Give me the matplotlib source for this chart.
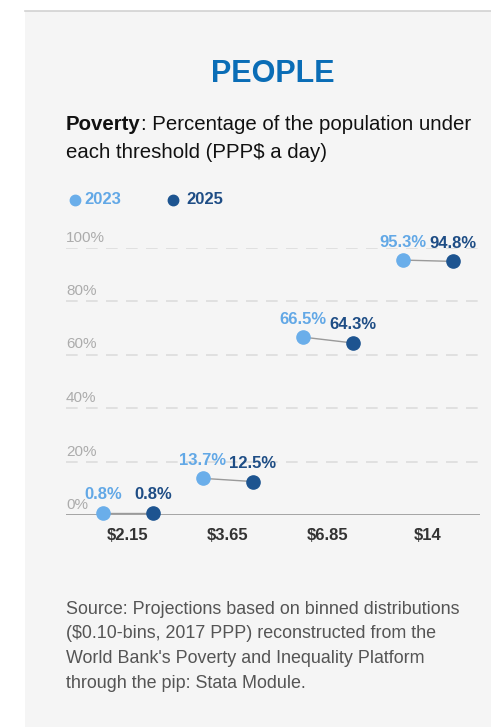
import matplotlib
matplotlib.use("Agg")
import matplotlib.pyplot as plt
from matplotlib.transforms import blended_transform_factory, offset_copy

# Data
thresholds = ["$2.15", "$3.65", "$6.85", "$14"]
series_years = ["2023", "2025"]
poverty_2023 = [0.8, 13.7, 66.5, 95.3]
poverty_2025 = [0.8, 12.5, 64.3, 94.8]
y_ticks = [0, 20, 40, 60, 80, 100]

FONT = "Liberation Sans"
plt.rcParams["font.family"] = [FONT, "DejaVu Sans"]

W, H, DPI = 491, 727, 100
LIGHT = "#6aaeea"
DARK = "#1d5490"
LIGHT_TXT = "#62a8e6"
DARK_TXT = "#1e4d85"

fig = plt.figure(figsize=(W / DPI, H / DPI), dpi=DPI)
fig.patch.set_facecolor("white")

def fx(px):
    return px / W

def fy(py):
    return 1 - py / H

# Card background and top rule
card = plt.Rectangle((fx(25), 0), 1 - fx(25), fy(11), transform=fig.transFigure,
                     facecolor="#f5f5f5", edgecolor="none", zorder=-5)
fig.add_artist(card)
fig.add_artist(plt.Line2D([fx(25), 1], [fy(11), fy(11)], transform=fig.transFigure,
                          color="#d2d2d2", lw=1.2, zorder=-4))

# Title
fig.text(fx(272.5), fy(82), "PEOPLE", ha="center", va="baseline", fontsize=22,
         fontweight="bold", color="#0a6db6")

# Subtitle with bold lead word
renderer = fig.canvas.get_renderer()
SUB = 14.7
t_bold = fig.text(fx(66), fy(130), "Poverty", ha="left", va="baseline", fontsize=SUB,
                  fontweight="bold", color="#111111")
bb = t_bold.get_window_extent(renderer=renderer)
fig.text(bb.x1 / W, fy(130), ": Percentage of the population under", ha="left",
         va="baseline", fontsize=SUB, color="#111111")
fig.text(fx(66), fy(158), "each threshold (PPP$ a day)", ha="left", va="baseline",
         fontsize=SUB, color="#111111")

# Legend
legend_items = [(75, 84, series_years[0], LIGHT, LIGHT_TXT),
                (173, 186, series_years[1], DARK, DARK_TXT)]
for dot_x, txt_x, label, c, tc in legend_items:
    fig.add_artist(plt.Line2D([fx(dot_x)], [fy(200)], transform=fig.transFigure,
                              marker="o", markersize=7.5, color=c, lw=0))
    fig.text(fx(txt_x), fy(200), label, ha="left", va="center", fontsize=12,
             fontweight="bold", color=tc)

# Plot area
ax = fig.add_axes([fx(66), fy(515), fx(480) - fx(66), (515 - 247.5) / H])
ax.set_facecolor("none")
ax.set_xlim(-0.62, 3.52)
ax.set_ylim(0, 100)
for s in ax.spines.values():
    s.set_visible(False)
ax.set_xticks([])
ax.set_yticks([])

for v in y_ticks[1:]:
    ax.axhline(v, color="#dcdcdc", lw=1.2, dashes=(7, 5), zorder=1)
ax.axhline(0, color="#8c8c8c", lw=1.8, zorder=2)

trans_y = blended_transform_factory(ax.transAxes, ax.transData)
for v in y_ticks:
    ax.text(0, v, f"{v}%", transform=offset_copy(trans_y, fig=fig, y=10, units="dots"),
            ha="left", va="center", fontsize=11, color="#acacac", zorder=2)

trans_x = blended_transform_factory(ax.transData, ax.transAxes)
for i, lab in enumerate(thresholds):
    ax.text(i, 0, lab, transform=offset_copy(trans_x, fig=fig, y=-20, units="dots"),
            ha="center", va="center", fontsize=12, fontweight="bold", color="#333333")

offset = 0.25
for i in range(len(thresholds)):
    x0, x1 = i - offset, i + offset
    y0, y1 = poverty_2023[i], poverty_2025[i]
    ax.plot([x0, x1], [y0, y1], color="#9a9a9a", lw=1.0, zorder=3)
    ax.plot([x0], [y0], "o", color=LIGHT, markersize=9.5, zorder=4, clip_on=False)
    ax.plot([x1], [y1], "o", color=DARK, markersize=9.5, zorder=4, clip_on=False)
    lab_tr = offset_copy(ax.transData, fig=fig, y=18, units="dots")
    ax.text(x0, y0, f"{y0}%", transform=lab_tr, ha="center", va="center",
            fontsize=12, fontweight="bold", color=LIGHT_TXT, zorder=5)
    ax.text(x1, y1, f"{y1}%", transform=lab_tr, ha="center", va="center",
            fontsize=12, fontweight="bold", color=DARK_TXT, zorder=5)

# Source note
source_lines = [
    "Source: Projections based on binned distributions",
    "($0.10-bins, 2017 PPP) reconstructed from the",
    "World Bank's Poverty and Inequality Platform",
    "through the pip: Stata Module.",
]
for k, line in enumerate(source_lines):
    fig.text(fx(66), fy(614 + 24.5 * k), line, ha="left", va="baseline",
             fontsize=12.9, color="#555555")

fig.savefig("out.png", dpi=DPI, facecolor=fig.get_facecolor())
